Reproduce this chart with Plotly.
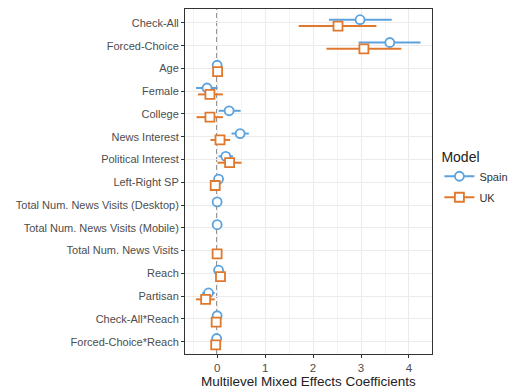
import plotly.graph_objects as go

# Model terms, top to bottom
terms = ["Check-All", "Forced-Choice", "Age", "Female", "College", "News Interest",
         "Political Interest", "Left-Right SP", "Total Num. News Visits (Desktop)",
         "Total Num. News Visits (Mobile)", "Total Num. News Visits", "Reach",
         "Partisan", "Check-All*Reach", "Forced-Choice*Reach"]

# Spain: estimate, lower, upper (None = term not in model)
spain_est = [2.98, 3.60, 0.00, -0.21, 0.25, 0.48, 0.18, 0.03, 0.00, 0.00, None, 0.03, -0.18, 0.00, -0.01]
spain_lo  = [2.33, 2.95, -0.02, -0.44, 0.03, 0.30, 0.03, -0.02, -0.02, -0.02, None, 0.00, -0.31, -0.02, -0.03]
spain_hi  = [3.64, 4.24, 0.02, 0.01, 0.49, 0.66, 0.33, 0.08, 0.02, 0.02, None, 0.06, -0.05, 0.02, 0.01]

# UK: estimate, lower, upper
uk_est = [2.52, 3.06, 0.01, -0.15, -0.15, 0.06, 0.26, -0.04, None, None, 0.00, 0.07, -0.24, -0.02, -0.03]
uk_lo  = [1.70, 2.28, -0.01, -0.40, -0.43, -0.14, 0.01, -0.10, None, None, -0.02, 0.03, -0.44, -0.05, -0.06]
uk_hi  = [3.32, 3.84, 0.03, 0.12, 0.12, 0.27, 0.51, 0.02, None, None, 0.02, 0.11, -0.05, 0.01, 0.00]

x_ticks = [0, 1, 2, 3, 4]

BLUE = "#5BA2DE"
ORANGE = "#E0782E"
DODGE = 0.14


def series(est, lo, hi, shift):
    xs, ys, ep, em = [], [], [], []
    for i, (e, l, h) in enumerate(zip(est, lo, hi)):
        if e is None:
            continue
        xs.append(e)
        ys.append(i + shift)
        ep.append(h - e)
        em.append(e - l)
    return xs, ys, ep, em


fig = go.Figure()

fig.add_shape(type="line", xref="x", yref="paper", x0=0, x1=0, y0=0, y1=1,
              line=dict(color="#555555", width=1.5, dash="5px,3px"), layer="below")

for name, est, lo, hi, shift, color, sym in [
    ("Spain", spain_est, spain_lo, spain_hi, -DODGE, BLUE, "circle"),
    ("UK", uk_est, uk_lo, uk_hi, DODGE, ORANGE, "square"),
]:
    xs, ys, ep, em = series(est, lo, hi, shift)
    fig.add_trace(go.Scatter(
        x=xs, y=ys, mode="markers", name=name, showlegend=False,
        marker=dict(symbol=sym, size=9, color="white", line=dict(color=color, width=1.8)),
        error_x=dict(type="data", symmetric=False, array=ep, arrayminus=em,
                     color=color, thickness=2, width=0),
    ))
    # legend key: marker crossed by a line
    fig.add_trace(go.Scatter(
        x=[None], y=[None], mode="lines+markers", name=name, legendgroup=name,
        marker=dict(symbol=sym, size=9, color="white", line=dict(color=color, width=1.8)),
        line=dict(color=color, width=2),
    ))

grid = "#EBEBEB"
fig.update_layout(
    width=510, height=389,
    margin=dict(l=185, r=78, t=9, b=35, autoexpand=False),
    paper_bgcolor="white", plot_bgcolor="white",
    font=dict(family="Liberation Sans, Arial, sans-serif", color="#4D4D4D", size=11),
    xaxis=dict(
        range=[-0.67, 4.48], tickvals=x_ticks, ticks="outside", ticklen=3,
        tickcolor="#333333", tickfont=dict(size=11.5, color="#4D4D4D"),
        showgrid=True, gridcolor=grid, gridwidth=1,
        minor=dict(dtick=0.5, showgrid=True, gridcolor="#F4F4F4", gridwidth=0.6),
        zeroline=False, showline=True, linecolor="#333333", mirror=True,
        automargin=False,
    ),
    yaxis=dict(
        range=[len(terms) - 0.46, -0.61], tickvals=list(range(len(terms))), ticktext=terms,
        ticks="outside", ticklen=3, tickcolor="#333333",
        tickfont=dict(size=11, color="#4D4D4D"),
        showgrid=True, gridcolor=grid, gridwidth=1, zeroline=False,
        showline=True, linecolor="#333333", mirror=True, automargin=False,
    ),
    legend=dict(
        title=dict(text="Model ", font=dict(size=14, color="#222222")),
        x=1.03, y=0.61, xanchor="left", yanchor="top",
        font=dict(size=11, color="#333333"), bgcolor="rgba(0,0,0,0)",
        itemwidth=30, tracegroupgap=2,
    ),
    annotations=[dict(
        text="Multilevel Mixed Effects Coefficients", xref="paper", yref="paper",
        x=0.5, y=0, yshift=-27, xanchor="center", yanchor="middle", showarrow=False,
        font=dict(size=13.5, color="#222222"),
    )],
)

fig.write_html("out.html")
